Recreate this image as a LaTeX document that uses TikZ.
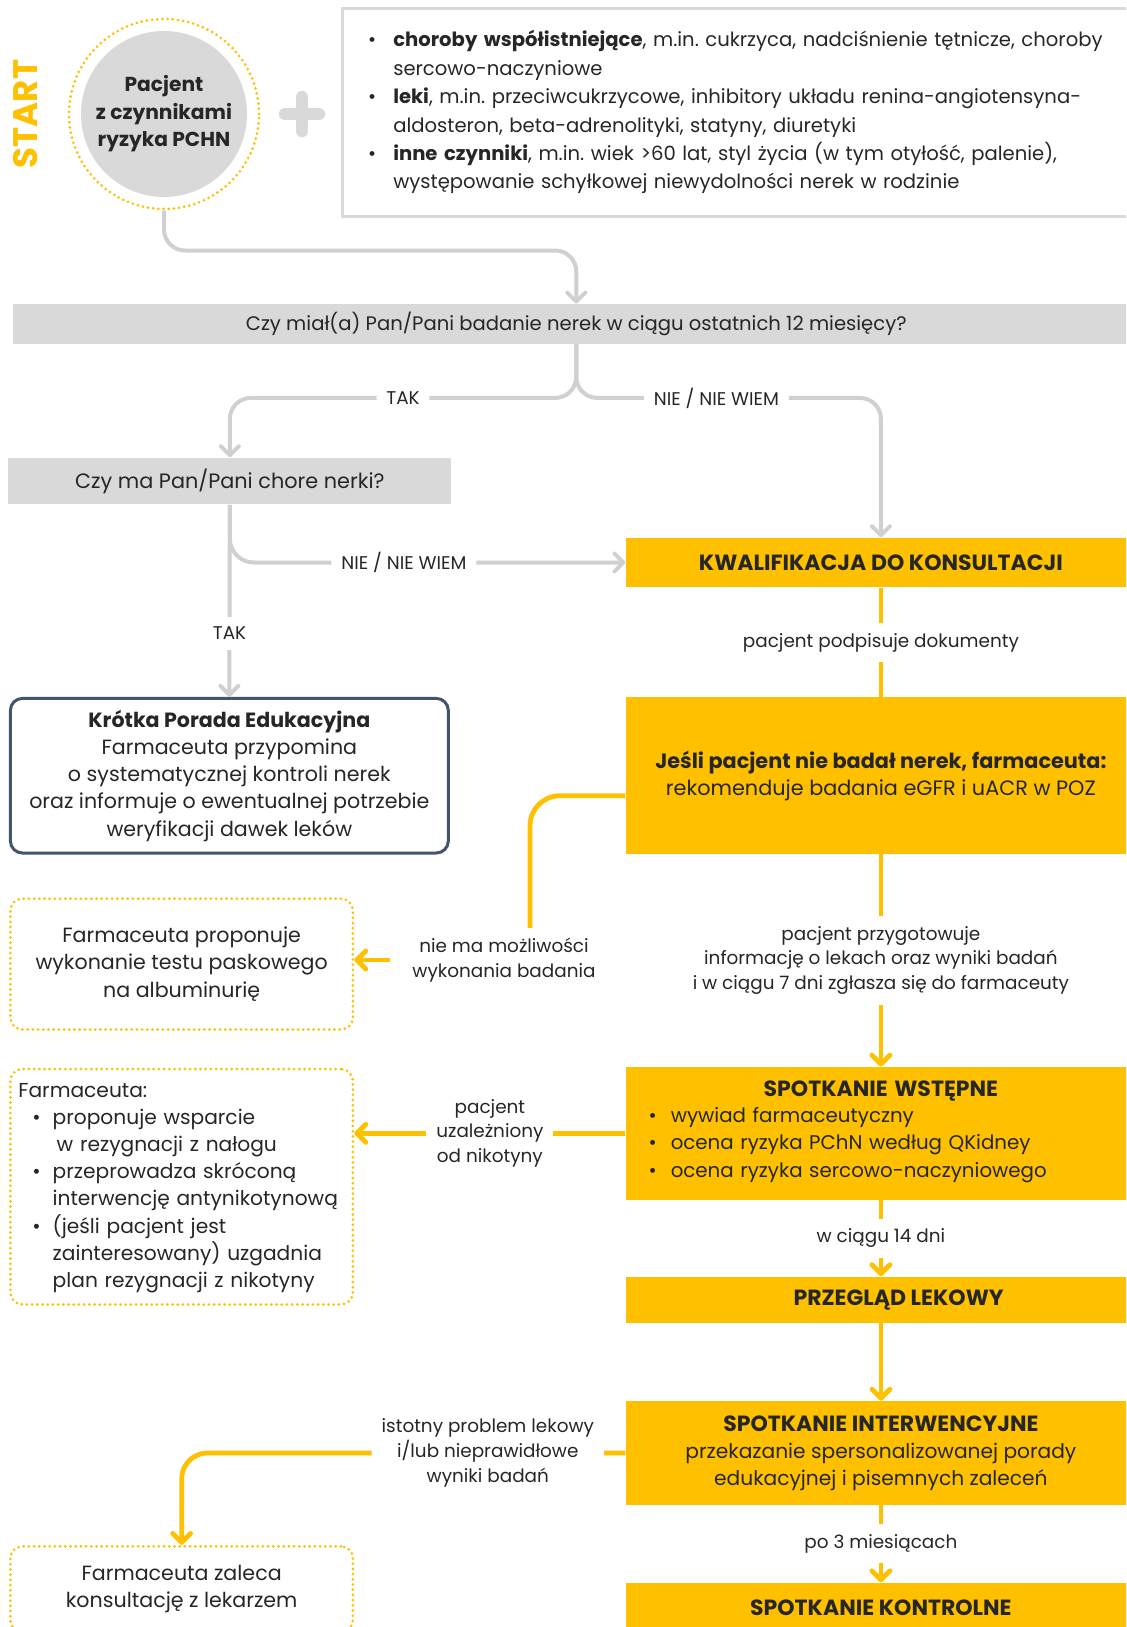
\documentclass[tikz,border=0pt]{standalone}
\usepackage{fontspec}
\setmainfont{Poppins}
\usepackage{xcolor}
\usepackage{tikz}
\usetikzlibrary{positioning,arrows.meta}
\definecolor{zolty}{HTML}{FFC000}
\definecolor{szary}{HTML}{D9D9D9}
\definecolor{linia}{HTML}{D0D0D0}
\definecolor{ciemny}{HTML}{44546A}
\definecolor{tekst}{HTML}{262626}
\newcommand{\tytul}[1]{{\fontsize{11}{13.6}\selectfont\bfseries #1}}
\frenchspacing

\begin{document}
\begin{tikzpicture}[x=0.5pt,y=-0.5pt,
    every node/.style={font=\fontsize{10.3}{13.6}\selectfont, text=tekst},
    ybox/.style={fill=zolty, inner sep=0pt, minimum width=255.1pt, align=center},
    gbox/.style={fill=szary, inner sep=0pt, align=center},
    dotbox/.style={draw=zolty, line width=1.5pt, dash pattern=on 0pt off 2.6pt, line cap=round, rounded corners=6pt, minimum width=171.25pt, align=center},
    lbl/.style={fill=white, inner sep=5pt, align=center, font=\fontsize{9.2}{12.3}\selectfont},
    gline/.style={draw=linia, line width=2pt},
    garrow/.style={gline, -{Straight Barb[round,length=4.5pt,width=9pt]}},
    yline/.style={draw=zolty, line width=2.4pt},
    yarrow/.style={yline, -{Straight Barb[round,length=4.5pt,width=9pt]}}]

    \useasboundingbox (0,0) rectangle (1126,1627);
    \clip (0,0) rectangle (1126,1627);

    % Start
    \node[rotate=90, text=zolty, font=\fontsize{17}{19}\selectfont\bfseries] (napis) at (26,114) {START};
    \node[circle, draw=zolty, line width=1.5pt, dash pattern=on 0pt off 2.6pt, line cap=round, minimum size=95pt, inner sep=0pt] (start) at (164,114) {};
    \node[circle, fill=szary, minimum size=83pt, inner sep=0pt, align=center, font=\fontsize{10.1}{13.75}\selectfont\bfseries] (pacjent) at (start) {Pacjent\\z czynnikami\\ryzyka PCHN};
    \draw[draw=szary, line width=6.2pt, line cap=round] (285,114) -- (319,114) (302,97) -- (302,131);

    % Risk factors
    \node[draw=szary, line width=1.5pt, minimum width=399pt, minimum height=103.85pt, text width=373pt, inner xsep=13pt, align=left, font=\fontsize{9.8}{14.2}\selectfont] (czynniki) at (741,112.15) {%
        \begin{tabular}{@{}l@{\hspace{8.6pt}}l@{}}
        \textbullet & \textbf{choroby współistniejące}, m.in. cukrzyca, nadciśnienie tętnicze, choroby\\
        & sercowo-naczyniowe\\
        \textbullet & \textbf{leki}, m.in. przeciwcukrzycowe, inhibitory układu renina-angiotensyna-\\
        & aldosteron, beta-adrenolityki, statyny, diuretyki\\
        \textbullet & \textbf{inne czynniki}, m.in. wiek >60 lat, styl życia (w tym otyłość, palenie),\\
        & występowanie schyłkowej niewydolności nerek w rodzinie
        \end{tabular}};

    % Questions
    \node[gbox, minimum width=563.75pt, minimum height=19.75pt, font=\fontsize{9.8}{13.6}\selectfont] (q1) at (576.25,323.75) {Czy miał(a) Pan/Pani badanie nerek w ciągu ostatnich 12 miesięcy?};
    \node[gbox, minimum width=221.55pt, minimum height=23.35pt, font=\fontsize{10.4}{13.6}\selectfont] (q2) at (229.85,481) {Czy ma Pan/Pani chore nerki?};

    % Left column
    \node[draw=ciemny, line width=1.5pt, rounded corners=6pt, minimum width=218.95pt, minimum height=77.3pt, align=center] (krotka) at (229.35,775.7) {\textbf{Krótka Porada Edukacyjna}\\Farmaceuta przypomina\\o systematycznej kontroli nerek\\oraz informuje o ewentualnej potrzebie\\weryfikacji dawek leków};
    \node[dotbox, minimum height=65.4pt] (paskowy) at (181.65,964.1) {Farmaceuta proponuje\\wykonanie testu paskowego\\na albuminurię};
    \node[dotbox, minimum height=117.75pt, text width=163.25pt, inner xsep=4pt, align=left, font=\fontsize{10.1}{13.6}\selectfont] (nikbox) at (181.65,1186.75) {%
        \begin{tabular}{@{}l@{\hspace{6pt}}l@{}}
        \multicolumn{2}{@{}l}{Farmaceuta:}\\
        \hspace{7pt}\textbullet & proponuje wsparcie\\
        & \hspace{2pt}w rezygnacji z nałogu\\
        \hspace{7pt}\textbullet & przeprowadza skróconą\\
        & interwencję antynikotynową\\
        \hspace{7pt}\textbullet & (jeśli pacjent jest\\
        & zainteresowany) uzgadnia\\
        & plan rezygnacji z nikotyny
        \end{tabular}};
    \node[dotbox, minimum height=42.85pt] (lekarz) at (181.65,1589.15) {Farmaceuta zaleca\\konsultację z lekarzem};

    % Right column
    \node[ybox, minimum height=24.9pt] (kwal) at (880.9,562.5) {\tytul{KWALIFIKACJA DO KONSULTACJI}};
    \node[ybox, minimum height=78.3pt, font=\fontsize{10.4}{13.6}\selectfont] (jesli) at (880.9,775.7) {\textbf{Jeśli pacjent nie badał nerek, farmaceuta:}\\rekomenduje badania eGFR i uACR w POZ};
    \node[ybox, minimum height=66.4pt, text width=232.3pt, inner xsep=11.4pt, align=left, font=\fontsize{9.9}{13.66}\selectfont] (wst) at (880.9,1133.3) {%
        \centerline{\tytul{SPOTKANIE WSTĘPNE}}
        \begin{tabular}{@{}l@{\hspace{7pt}}l@{}}
        \textbullet & wywiad farmaceutyczny\\
        \textbullet & ocena ryzyka PChN według QKidney\\
        \textbullet & ocena ryzyka sercowo-naczyniowego
        \end{tabular}};
    \node[ybox, minimum height=23.25pt] (prz) at (880.9,1299.75) {\hspace*{17.7pt}\tytul{PRZEGLĄD LEKOWY}};
    \node[ybox, minimum height=51.9pt, font=\fontsize{10.1}{13.5}\selectfont] (int) at (880.9,1452.9) {\tytul{SPOTKANIE INTERWENCYJNE}\\przekazanie spersonalizowanej porady\\edukacyjnej i pisemnych zaleceń};
    \node[ybox, minimum height=24.7pt] (kon) at (880.9,1607.3) {\tytul{SPOTKANIE KONTROLNE}};

    % Grey connectors
    \draw[garrow, rounded corners=10.5pt] (start.south) -- ++(0,40) -| (q1.north);
    \draw[garrow, rounded corners=10.5pt] (q1.south) -- ++(0,54) -| node[lbl, pos=0.25]{TAK} (q2.north);
    \draw[garrow, rounded corners=10.5pt] (q1.south) -- ++(0,54) -| node[lbl, pos=0.23]{NIE / NIE WIEM} (kwal.north);
    \draw[garrow, rounded corners=12pt] (q2.south) |- node[lbl, pos=0.72]{NIE / NIE WIEM} (kwal.west);
    \draw[garrow] (q2.south) -- node[lbl, pos=0.67]{TAK} (krotka.north);

    % Yellow connectors
    \draw[yline] (kwal.south) -- node[lbl]{pacjent podpisuje dokumenty} (jesli.north);
    \draw[yarrow] (jesli.south) -- node[lbl]{pacjent przygotowuje\\informację o lekach oraz wyniki badań\\i w ciągu 7 dni zgłasza się do farmaceuty} (wst.north);
    \coordinate (zakret) at (530,929);
    \draw[yline, rounded corners=15pt] ([yshift=-10pt]jesli.west) -| (zakret);
    \node[lbl] (nomoz) at (504,960) {nie ma możliwości\\wykonania badania};
    \draw[yarrow, shorten <=6pt] (nomoz.west) -- (nomoz.west -| paskowy.east);
    \draw[yarrow] (wst.west) -- node[lbl]{pacjent\\uzależniony\\od nikotyny} (wst.west -| nikbox.east);
    \draw[yarrow] (wst.south) -- node[lbl]{w ciągu 14 dni} (prz.north);
    \draw[yarrow] (prz.south) -- (int.north);
    \draw[yarrow, rounded corners=13pt] (int.west) -- node[lbl, pos=0.31]{istotny problem lekowy\\i/lub nieprawidłowe\\wyniki badań} (int.west -| lekarz.north) -- (lekarz.north);
    \draw[yarrow] (int.south) -- node[lbl]{po 3 miesiącach} (kon.north);
\end{tikzpicture}
\end{document}
